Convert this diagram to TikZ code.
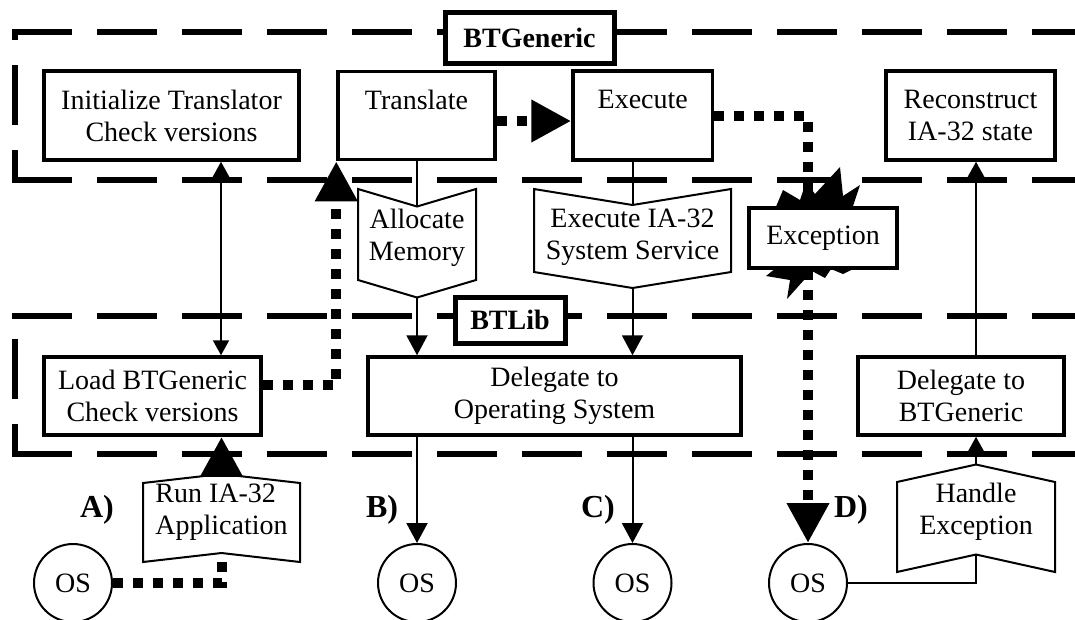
\documentclass[tikz,border=0pt]{standalone}
\usepackage{fontspec}
\setmainfont{Liberation Serif}
\usepackage{tikz}
\usetikzlibrary{arrows.meta}
\usetikzlibrary{calc}
\newcommand\boxfont{\fontsize{28}{32}\selectfont}
\tikzstyle{tierframe}=[line width=6pt,dash pattern=on 60pt off 25pt]
\tikzstyle{framelabel}=[draw,line width=5pt,fill=white,inner sep=0pt,font=\boxfont\bfseries]
\tikzstyle{box}=[draw,line width=3.5pt,fill=white,inner sep=0pt,align=center,font=\boxfont]
\tikzstyle{chevtext}=[inner sep=0pt,align=center,font=\boxfont]
\tikzstyle{chevline}=[line width=2pt,line join=miter]
\tikzstyle{os}=[draw,circle,line width=2pt,fill=white,minimum size=78pt,inner sep=0pt,font=\boxfont]
\tikzstyle{case}=[inner sep=0pt,font=\fontsize{32}{36}\selectfont\bfseries]
\tikzstyle{tips}=[Small/.tip={Triangle[length=15pt,width=16pt]},Mid/.tip={Triangle[length=20pt,width=21pt]},Big/.tip={Triangle[length=40pt,width=40pt]}]
\tikzstyle{conn}=[line width=2pt,tips]
\tikzstyle{dotconn}=[line width=10pt,dash pattern=on 10pt off 10pt,tips]
% chevron: options, name, text centre, half width, top, bottom, dip, text
\newcommand\chev[8]{%
  \node[chevtext,#1] (#2) at (#3) {#8};
  \draw[chevline] ($(#2)+(-#4,#5)$) -- ($(#2)+(0,#5+#7)$) coordinate (#2-top) -- ($(#2)+(#4,#5)$)
    -- ($(#2)+(#4,#6)$) -- ($(#2)+(0,#6+#7)$) coordinate (#2-bot) -- ($(#2)+(-#4,#6)$) -- cycle;
}
\begin{document}
\begin{tikzpicture}[x=1pt,y=-1pt]
	\useasboundingbox (0,0) rectangle (1075,619);
	\clip (0,0) rectangle (1075,619);
	\coordinate (colA) at (221,0);
	\coordinate (colC) at (632.5,0);
	\coordinate (colD) at (808,0);
	% the two tiers
	\draw[tierframe] (12,32) -- (1090,32);
	\draw[tierframe,dash phase=27pt] (15,183) -- (15,29);
	\draw[tierframe] (12,180) -- (1090,180);
	\draw[tierframe] (12,316) -- (1090,316);
	\draw[tierframe,dash phase=27pt] (15,457) -- (15,313);
	\draw[tierframe] (12,454) -- (1090,454);
	\node[framelabel,minimum width=169pt,minimum height=51pt] (btgeneric) at (529.5,37.5) {BTGeneric};
	\node[framelabel,minimum width=110pt,minimum height=46pt] (btlib) at (510,320) {BTLib};
	% BTGeneric
	\node[box,minimum width=255pt,minimum height=89pt] (init) at (171.5,115.5) {Initialize Translator\\Check versions};
	\node[box,minimum width=157pt,minimum height=88pt] (translate) at (416.5,115.5) {Translate\\~};
	\node[box,minimum width=139.5pt,minimum height=89pt] (execute) at (642.75,115.5) {Execute\\~};
	\node[box,minimum width=169pt,minimum height=89pt] (recon) at (970.5,115.5) {Reconstruct\\IA-32 state};
	% BTLib
	\node[box,minimum width=217pt,minimum height=78pt] (load) at (152.5,396) {Load BTGeneric\\Check versions};
	\node[box,minimum width=373pt,minimum height=78pt] (delos) at (554.5,396) {Delegate to\\Operating System};
	\node[box,minimum width=206pt,minimum height=78pt] (delbt) at (961,396) {Delegate to\\BTGeneric};
	% calls
	\chev{}{alloc}{417,237.5}{59}{-48.5}{42.5}{17.5}{Allocate\\Memory}
	\chev{}{sys}{632.5,237.5}{98.5}{-48.5}{34.5}{16}{Execute IA-32\\System Service}
	\chev{align=left}{run}{221.5,512}{78.5}{-29}{50}{-9}{Run IA-32\\Application}
	\chev{}{hand}{976,511.5}{79}{-29.5}{60.5}{-17.5}{Handle\\Exception}
	% exception
	\fill[shift={(823,238)}] (-48,-29) -- (-40,-48) -- (-23,-38) -- (-17,-56) -- (-8,-44) -- (17,-71)
		-- (20,-42) -- (37,-53) -- (29,-29) -- (32,30) -- (20,36) -- (8,31) -- (2,40) -- (-11,33)
		-- (-36,61) -- (-33,42) -- (-57,38) -- (-47,30) -- (-50,0) -- cycle;
	\node[box,line width=4pt,minimum width=148pt,minimum height=60pt] (exc) at (823,238) {Exception};
	% operating system
	\node[os] (osa) at (73,583) {OS};
	\node[os] (osb) at (417,583) {OS};
	\node[os] (osc) at (632.5,583) {OS};
	\node[os] (osd) at (808,583) {OS};
	\node[case] (casea) at (97,510) {A)};
	\node[case] (caseb) at (382,510) {B)};
	\node[case] (casec) at (598,510) {C)};
	\node[case] (cased) at (851,510) {D)};
	% control flow
	\draw[conn,Small-Small] (colA |- init.south) -- (colA |- load.north);
	\draw[conn] (alloc-top |- translate.south) -- (alloc-top);
	\draw[conn,-Mid] (alloc-bot) -- (alloc-bot |- delos.north);
	\draw[conn] (colC |- execute.south) -- (sys-top);
	\draw[conn,-Mid] (sys-bot) -- (sys-bot |- delos.north);
	\draw[conn,-Mid] (alloc-bot |- delos.south) -- (osb);
	\draw[conn,-Mid] (sys-bot |- delos.south) -- (osc);
	\draw[conn] (osd) -| (hand-bot);
	\draw[conn,-Small] (hand-top) -- (hand-top |- delbt.south);
	\draw[conn,-Small] (hand-top |- delbt.north) -- (hand-top |- recon.south);
	\draw[dotconn,-Big] ($(load.east)+(0,-11)$) -| (translate.south west);
	\draw[dotconn,-Big] ($(translate.east)+(0,5.5)$) -- ($(execute.west)+(0,5.5)$);
	\draw[dotconn] (execute.east) -| (colD |- exc.north);
	\draw[dotconn,-Big] (colD |- exc.south) -- (osd);
	\draw[dotconn] (osa) -| (run-bot);
	\draw[dotconn,-Big] (run-top) -- (run-top |- load.south);
\end{tikzpicture}
\end{document}
